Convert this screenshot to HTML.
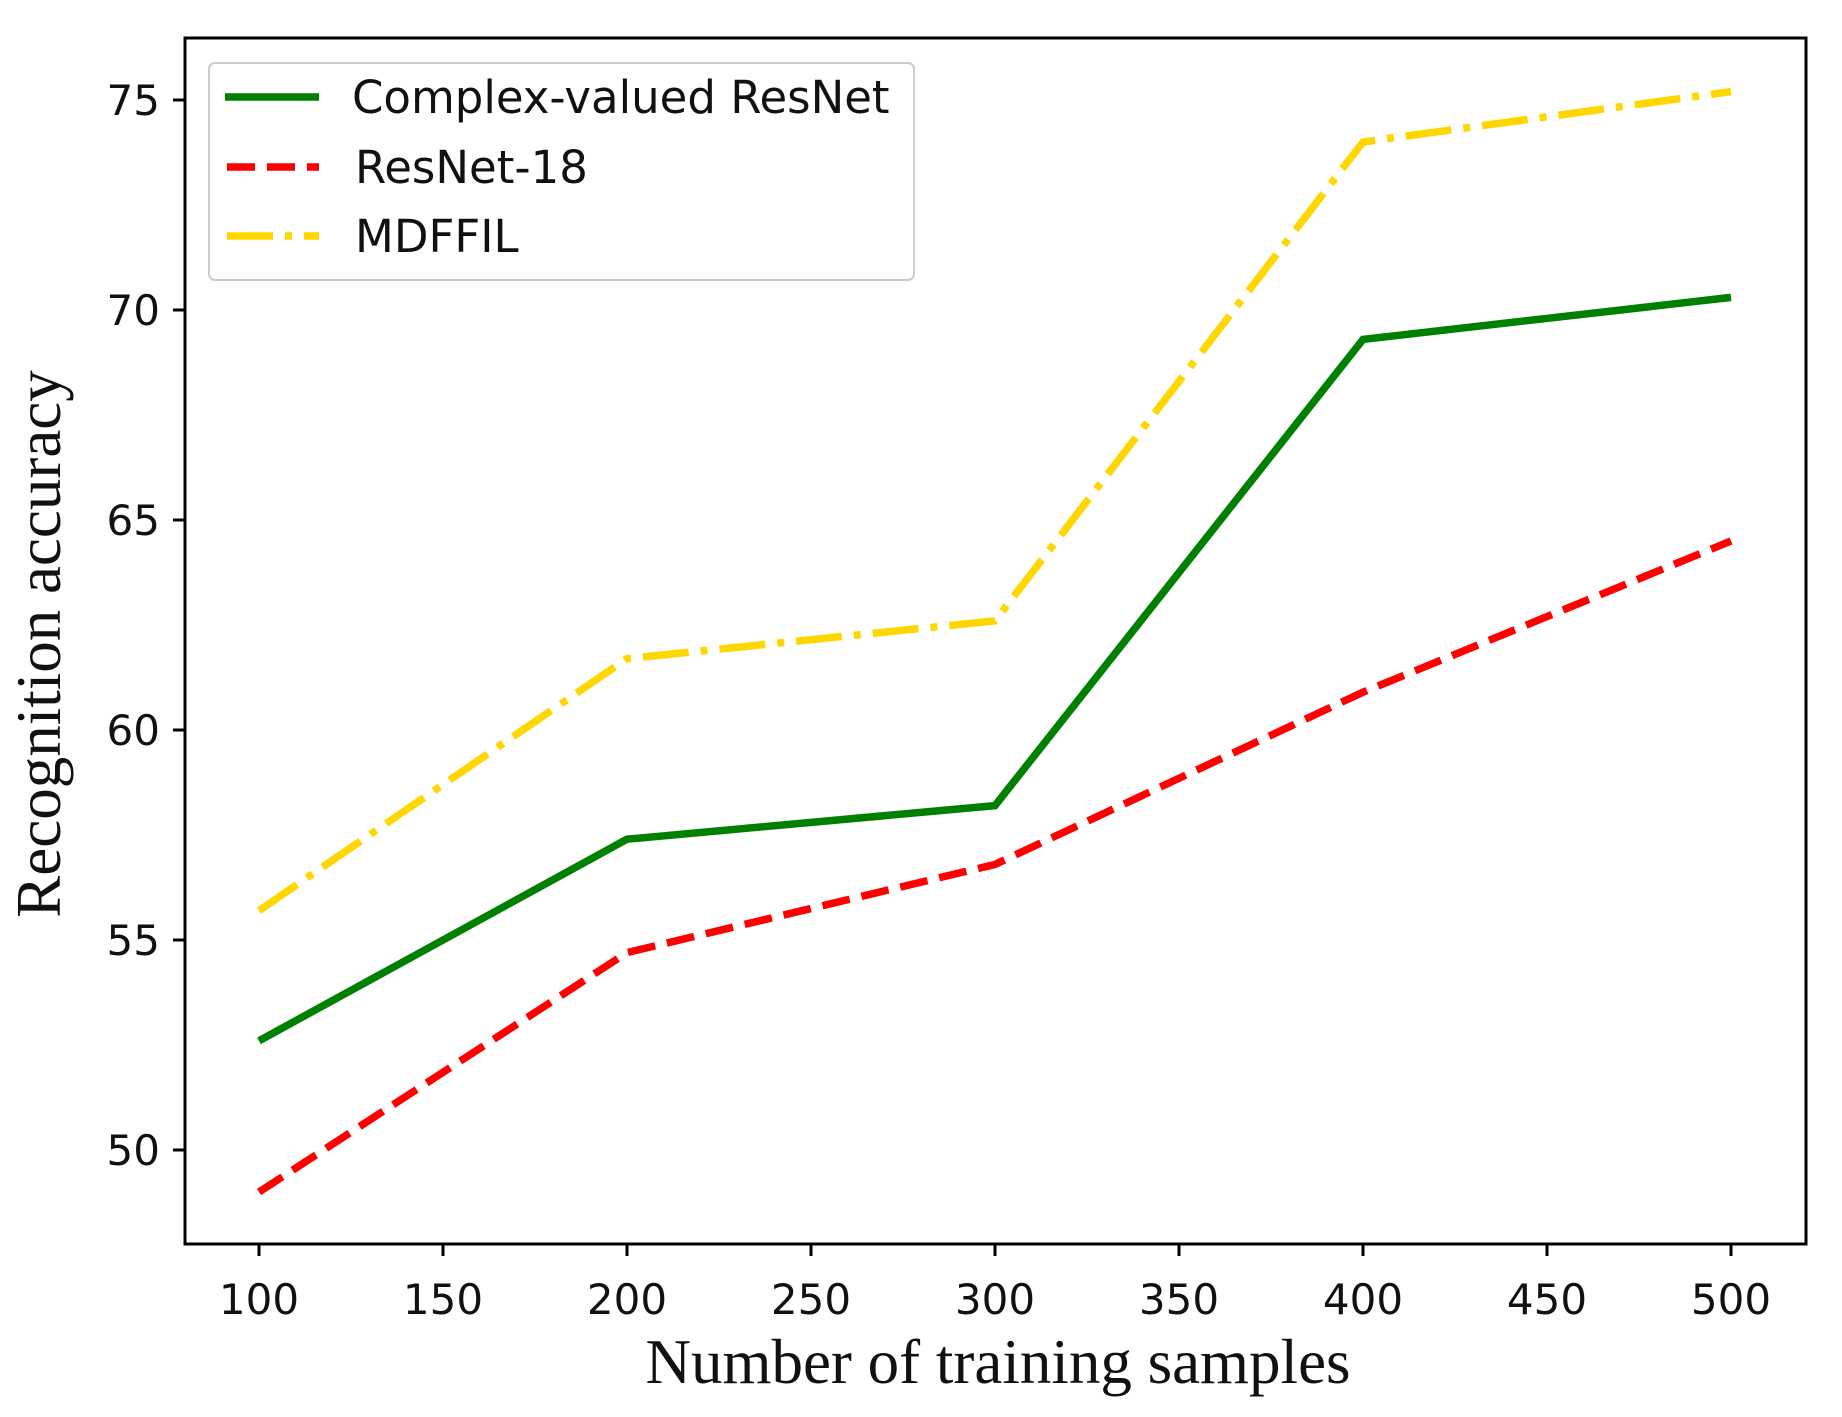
<!DOCTYPE html>
<html><head><meta charset="utf-8"><style>
html,body{margin:0;padding:0;background:#fff;}
svg{display:block;}
.tick{font-family:"DejaVu Sans","Liberation Sans",sans-serif;font-size:42px;fill:#111;}
.lab{font-family:"Liberation Serif",serif;font-size:63px;fill:#111;}
.leg{font-family:"DejaVu Sans","Liberation Sans",sans-serif;font-size:45px;fill:#111;}
</style></head><body>
<svg id="chart" width="1842" height="1417" viewBox="0 0 1842 1417" xmlns="http://www.w3.org/2000/svg">
<rect x="185" y="38" width="1621" height="1206" fill="#fff" stroke="#000" stroke-width="3"/>
<g id="ticks"></g>
<g id="series"></g>
<text class="lab" x="998" y="1383" text-anchor="middle">Number of training samples</text>
<text class="lab" transform="translate(60,644) rotate(-90)" text-anchor="middle">Recognition accuracy</text>
<g>
<rect x="209" y="63" width="705" height="217" rx="6" fill="#fff" stroke="#ccc" stroke-width="2"/>
<line x1="225" y1="97" x2="319" y2="97" stroke="#008000" stroke-width="7.5"/>
<text class="leg" x="352" y="113">Complex-valued ResNet</text>
<line x1="227" y1="167" x2="319" y2="167" stroke="#ff0000" stroke-width="7.5" stroke-dasharray="28,12"/>
<text class="leg" x="355" y="183">ResNet-18</text>
<line x1="227" y1="236" x2="319" y2="236" stroke="#ffd700" stroke-width="7.5" stroke-dasharray="46,12,7,12"/>
<text class="leg" x="355" y="252">MDFFIL</text>
</g>
</svg>
<script>
const categories = [100, 200, 300, 400, 500];
const complexValues = [52.6, 57.4, 58.2, 69.3, 70.3];
const resnetValues = [49.0, 54.7, 56.8, 60.9, 64.5];
const mdffilValues = [55.7, 61.7, 62.6, 74.0, 75.2];
const xTicks = [100, 150, 200, 250, 300, 350, 400, 450, 500];
const yTicks = [50, 55, 60, 65, 70, 75];

const NS = "http://www.w3.org/2000/svg";
function xs(v){ return 259 + (v - 100) * (1731 - 259) / 400; }
function ys(v){ return 1150 - (v - 50) * (1150 - 100) / 25; }

const tg = document.getElementById('ticks');
xTicks.forEach(t => {
  const l = document.createElementNS(NS, 'line');
  l.setAttribute('x1', xs(t)); l.setAttribute('x2', xs(t));
  l.setAttribute('y1', 1244); l.setAttribute('y2', 1256);
  l.setAttribute('stroke', '#000'); l.setAttribute('stroke-width', 3);
  
  
  tg.appendChild(l);
  const tx = document.createElementNS(NS, 'text');
  tx.setAttribute('x', xs(t)); tx.setAttribute('y', 1314);
  tx.setAttribute('text-anchor', 'middle'); tx.setAttribute('class', 'tick');
  tx.textContent = t;
  
  
  tg.appendChild(tx);
});
yTicks.forEach(t => {
  const l = document.createElementNS(NS, 'line');
  l.setAttribute('x1', 173); l.setAttribute('x2', 185);
  l.setAttribute('y1', ys(t)); l.setAttribute('y2', ys(t));
  l.setAttribute('stroke', '#000'); l.setAttribute('stroke-width', 3);
  
  
  tg.appendChild(l);
  const tx = document.createElementNS(NS, 'text');
  tx.setAttribute('x', 160); tx.setAttribute('y', ys(t) + 15);
  tx.setAttribute('text-anchor', 'end'); tx.setAttribute('class', 'tick');
  tx.textContent = t;
  
  
  tg.appendChild(tx);
});

const sg = document.getElementById('series');
function drawSeries(vals, color, dash, name){
  const p = document.createElementNS(NS, 'polyline');
  p.setAttribute('points', vals.map((v,i) => xs(categories[i]) + ',' + ys(v)).join(' '));
  p.setAttribute('fill', 'none'); p.setAttribute('stroke', color);
  p.setAttribute('stroke-width', 7.5);
  if (dash) p.setAttribute('stroke-dasharray', dash);
  
  
  sg.appendChild(p);
}
drawSeries(mdffilValues, '#ffd700', '46,12,7,12', 'series-mdffil');
drawSeries(resnetValues, '#ff0000', '28,12', 'series-resnet18');
drawSeries(complexValues, '#008000', null, 'series-complex-valued-resnet');
</script>
</body></html>
